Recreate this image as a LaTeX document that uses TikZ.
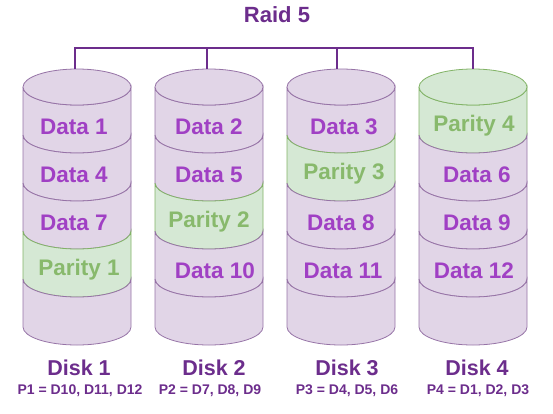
\documentclass[tikz,border=0pt]{standalone}
\usepackage{fontspec}
\setmainfont{Liberation Sans}
\definecolor{lav}{HTML}{E1D5E7}
\definecolor{lavline}{HTML}{9673A6}
\definecolor{grn}{HTML}{D5E8D4}
\definecolor{grnline}{HTML}{82B366}
\definecolor{datatxt}{HTML}{A040C4}
\definecolor{partxt}{HTML}{88B96C}
\definecolor{ttl}{HTML}{6C2D8C}
\begin{document}
\begin{tikzpicture}[x=1pt,y=-1pt,
  bandtxt/.style={font=\bfseries\fontsize{22.5}{22.5}\selectfont,inner sep=0pt},
  datastyle/.style={bandtxt,text=datatxt},
  paritystyle/.style={bandtxt,text=partxt},
  disklabel/.style={font=\bfseries\fontsize{21.5}{21.5}\selectfont,text=ttl,inner sep=0pt},
  formula/.style={font=\bfseries\fontsize{14}{14}\selectfont,text=ttl,inner sep=0pt},
  bus/.style={draw=ttl,line width=1.6pt}]
\useasboundingbox (0,0) rectangle (553,413);
\def\rx{54}\def\ry{18}
% band macro: #1 cx, #2 top center y, #3 fill, #4 line
\newcommand\myband[4]{%
  \pgfmathsetmacro\yb{#2+48}%
  \filldraw[fill=#3,draw=#4,line width=0.8pt]
    (#1-\rx,#2) -- (#1-\rx,\yb) arc[start angle=180,end angle=360,x radius=\rx,y radius=-\ry]
    -- (#1+\rx,#2) arc[start angle=0,end angle=180,x radius=\rx,y radius=\ry];
}
\newcommand\mytop[3]{%
  \filldraw[fill=#2,draw=#3,line width=0.8pt] (#1,87) ellipse[x radius=\rx,y radius=\ry];
}
% Disk 1
\myband{77}{87}{lav}{lavline}\myband{77}{135}{lav}{lavline}\myband{77}{183}{lav}{lavline}\myband{77}{231}{grn}{grnline}\myband{77}{279}{lav}{lavline}
\mytop{77}{lav}{lavline}
% Disk 2
\myband{209}{87}{lav}{lavline}\myband{209}{135}{lav}{lavline}\myband{209}{183}{grn}{grnline}\myband{209}{231}{lav}{lavline}\myband{209}{279}{lav}{lavline}
\mytop{209}{lav}{lavline}
% Disk 3
\myband{341}{87}{lav}{lavline}\myband{341}{135}{grn}{grnline}\myband{341}{183}{lav}{lavline}\myband{341}{231}{lav}{lavline}\myband{341}{279}{lav}{lavline}
\mytop{341}{lav}{lavline}
% Disk 4
\myband{473}{87}{grn}{grnline}\myband{473}{135}{lav}{lavline}\myband{473}{183}{lav}{lavline}\myband{473}{231}{lav}{lavline}\myband{473}{279}{lav}{lavline}
\mytop{473}{grn}{grnline}

% texts
\node[datastyle] (a1) at (74,127) {Data 1};
\node[datastyle] (a4) at (74,175) {Data 4};
\node[datastyle] (a7) at (74,223) {Data 7};
\node[paritystyle] (p1) at (79,270) {Parity 1};
\node[datastyle] (b2) at (209,127) {Data 2};
\node[datastyle] (b5) at (209,175) {Data 5};
\node[paritystyle] (p2) at (209,222) {Parity 2};
\node[datastyle] (b10) at (215,271) {Data 10};
\node[datastyle] (c3) at (344,127) {Data 3};
\node[paritystyle] (p3) at (344,174) {Parity 3};
\node[datastyle] (c8) at (341,223) {Data 8};
\node[datastyle] (c11) at (343,271) {Data 11};
\node[paritystyle] (p4) at (474,126) {Parity 4};
\node[datastyle] (d6) at (477,175) {Data 6};
\node[datastyle] (d9) at (477,223) {Data 9};
\node[datastyle] (d12) at (474,271) {Data 12};

\node[font=\bfseries\fontsize{22}{22}\selectfont,text=ttl,inner sep=0pt] (title) at (277,15) {Raid 5};

\node[disklabel] (k1) at (79,368) {Disk 1};
\node[disklabel] (k2) at (214,368) {Disk 2};
\node[disklabel] (k3) at (347,368) {Disk 3};
\node[disklabel] (k4) at (477,368) {Disk 4};
\node[formula] (f1) at (80,391) {P1 = D10, D11, D12};
\node[formula] (f2) at (210,391) {P2 = D7, D8, D9};
\node[formula] (f3) at (347,391) {P3 = D4, D5, D6};
\node[formula] (f4) at (478,391) {P4 = D1, D2, D3};

% bus
\coordinate (t1) at (75,69);
\coordinate (t2) at (207,69);
\coordinate (t3) at (337,69);
\coordinate (t4) at (473,69);
\coordinate (busy) at (0,48);
\draw[bus] (t1) |- (busy -| t4) -- (t4);
\draw[bus] (t2) -- (t2 |- busy);
\draw[bus] (t3) -- (t3 |- busy);
\end{tikzpicture}
\end{document}
